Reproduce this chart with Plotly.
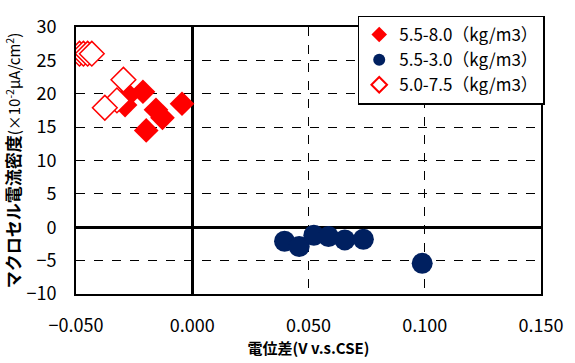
import plotly.graph_objects as go

# Series A: 5.5-8.0 (kg/m3) — filled red diamonds
a_name = "5.5-8.0（kg/m3）"
a_x = [-0.0212, -0.0289, -0.0275, -0.0156, -0.0128, -0.0198, -0.0044]
a_y = [20.3, 18.3, 19.8, 17.6, 16.4, 14.5, 18.5]

# Series B: 5.5-3.0 (kg/m3) — navy circles
b_name = "5.5-3.0（kg/m3）"
b_x = [0.0397, 0.0460, 0.0523, 0.0586, 0.0656, 0.0736, 0.0989]
b_y = [-2.1, -2.9, -1.2, -1.4, -1.9, -1.8, -5.4]

# Series C: 5.0-7.5 (kg/m3) — open red diamonds
c_name = "5.0-7.5（kg/m3）"
c_x = [-0.0485, -0.0468, -0.0450, -0.0432, -0.0296, -0.0324, -0.0376]
c_y = [26.0, 26.0, 26.0, 26.0, 22.1, 19.0, 17.9]

x_ticks = [-0.05, 0.0, 0.05, 0.10, 0.15]
y_ticks = [-10, -5, 0, 5, 10, 15, 20, 25, 30]

FONT = "Noto Sans CJK JP"

fig = go.Figure()
fig.add_trace(go.Scatter(
    x=a_x, y=a_y, mode="markers", name=a_name,
    marker=dict(symbol="diamond", size=19, color="#ff0000",
                line=dict(width=0)),
))
fig.add_trace(go.Scatter(
    x=b_x, y=b_y, mode="markers", name=b_name,
    marker=dict(symbol="circle", size=21, color="#002060",
                line=dict(width=0)),
))
fig.add_trace(go.Scatter(
    x=c_x, y=c_y, mode="markers", name=c_name,
    marker=dict(symbol="diamond", size=19, color="white",
                line=dict(width=1.5, color="#ff0000")),
))

fig.update_layout(
    width=575, height=363,
    margin=dict(l=74, r=25, t=16, b=67),
    paper_bgcolor="white", plot_bgcolor="white",
    font=dict(family=FONT, size=15, color="#000"),
    showlegend=True,
    legend=dict(
        x=1.008, xanchor="right", y=1.043, yanchor="top",
        bgcolor="white", bordercolor="#000", borderwidth=1.5,
        font=dict(family=FONT, size=17, color="#000"),
        itemsizing="constant", tracegroupgap=0,
    ),
    xaxis=dict(
        range=[-0.05, 0.15], tickvals=x_ticks, tickformat=".3f",
        showgrid=True, gridcolor="#000", griddash="dash", gridwidth=1,
        zeroline=True, zerolinecolor="#000", zerolinewidth=2.8,
        showline=True, linecolor="#000", linewidth=2, mirror=True,
        ticks="", tickfont=dict(size=18), ticklabelstandoff=14,
        title=dict(text="<b>電位差(V v.s.CSE)</b>", font=dict(size=15), standoff=4),
    ),
    yaxis=dict(
        range=[-10, 30], tickvals=y_ticks,
        showgrid=True, gridcolor="#000", griddash="dash", gridwidth=1,
        zeroline=True, zerolinecolor="#000", zerolinewidth=2.8,
        showline=True, linecolor="#000", linewidth=2, mirror=True,
        ticks="", tickfont=dict(size=18), ticklabelstandoff=14,
        title=dict(text="<b><span style='font-size:17px'>マクロセル電流密度</span></b>(×10<sup>-2</sup>μA/cm<sup>2</sup>)",
                   font=dict(size=15), standoff=4),
    ),
)

fig.write_html("out.html")
